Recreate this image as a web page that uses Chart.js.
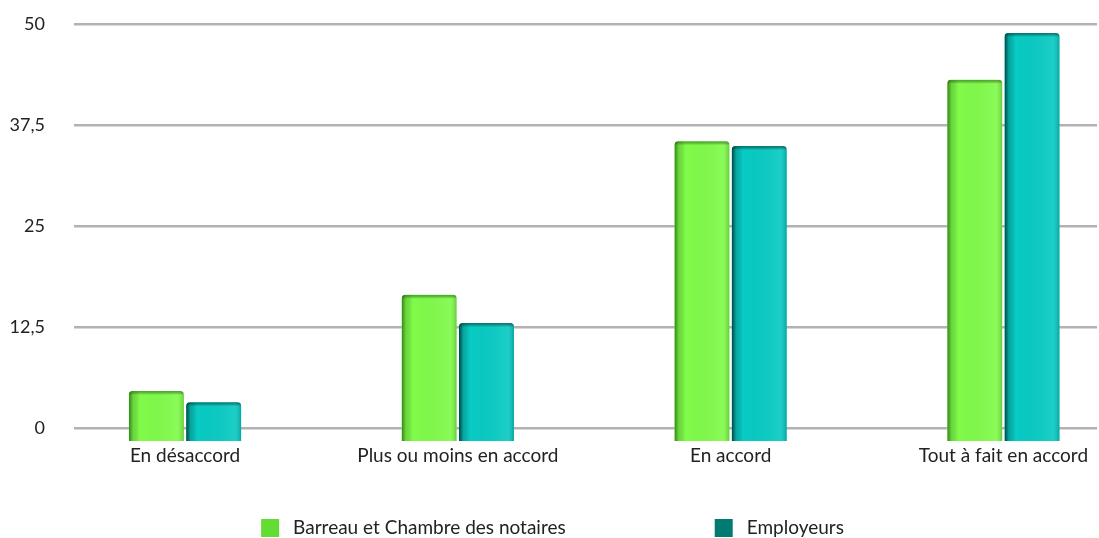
<!DOCTYPE html>
<html lang="fr">
<head>
<meta charset="utf-8">
<title>Répartition des réponses</title>
<script src="https://cdn.jsdelivr.net/npm/chart.js@4/dist/chart.umd.min.js"></script>
<style>
  html, body { margin: 0; padding: 0; background: #fff; }
  #wrap { width: 1099px; height: 538px; }
</style>
</head>
<body>
<div id="wrap"><canvas id="chart" width="1099" height="538"></canvas></div>
<script>
const categories = ["En désaccord", "Plus ou moins en accord", "En accord", "Tout à fait en accord"];
const barreau = [4.6, 16.5, 35.5, 43.1];
const employeurs = [3.2, 13, 34.9, 48.9];
const yTicks = [0, 12.5, 25, 37.5, 50];

const FONT = "Lato, 'Noto Sans', sans-serif";

// shading on top of each bar so they read as rounded 3D columns
const shadeBars = {
  id: "shadeBars",
  afterDatasetsDraw(chart) {
    const ctx = chart.ctx;
    chart.data.datasets.forEach((ds, di) => {
      const meta = chart.getDatasetMeta(di);
      meta.data.forEach((bar) => {
        const w = bar.width, x0 = bar.x - w / 2, top = bar.y, h = bar.base - bar.y;
        ctx.save();
        ctx.beginPath();
        ctx.roundRect(x0, top, w, h, [4, 4, 0, 0]);
        ctx.clip();
        let g = ctx.createLinearGradient(x0, 0, x0 + w, 0);
        g.addColorStop(0, ds.edgeColor);
        g.addColorStop(0.08, ds.edgeColor.replace(/[\d.]+\)$/, "0.25)"));
        g.addColorStop(0.2, "rgba(0,0,0,0)");
        g.addColorStop(0.88, "rgba(255,255,255,0.08)");
        g.addColorStop(1, "rgba(0,0,0,0.2)");
        ctx.fillStyle = g;
        ctx.fillRect(x0, top, w, h);
        // top rim
        g = ctx.createLinearGradient(0, top, 0, top + 4);
        g.addColorStop(0, ds.edgeColor.replace(/[\d.]+\)$/, "0.6)"));
        g.addColorStop(1, "rgba(0,0,0,0)");
        ctx.fillStyle = g;
        ctx.fillRect(x0, top, w, 4);
        ctx.restore();
      });
    });
  }
};

// legend row under the chart, items spread apart
const bottomLegend = {
  id: "bottomLegend",
  afterDraw(chart) {
    const ctx = chart.ctx;
    const box = 18, gap = 14, spread = 149, cy = 528;
    ctx.save();
    ctx.font = "19px " + FONT;
    ctx.textBaseline = "middle";
    const items = chart.data.datasets.map((ds) => ({
      text: ds.label, color: ds.legendColor,
      w: box + gap + ctx.measureText(ds.label).width
    }));
    const total = items.reduce((s, it) => s + it.w, 0) + spread * (items.length - 1);
    let x = chart.width / 2 - total / 2 + 3;
    items.forEach((it) => {
      ctx.fillStyle = it.color;
      ctx.fillRect(x, cy - box / 2, box, box);
      ctx.fillStyle = "#222";
      ctx.fillText(it.text, x + box + gap, cy);
      x += it.w + spread;
    });
    ctx.restore();
  }
};

new Chart(document.getElementById("chart"), {
  type: "bar",
  data: {
    datasets: [
      {
        label: "Barreau et Chambre des notaires",
        data: categories.map((c, i) => ({ x: i, y: barreau[i] })),
        backgroundColor: "#80fb4a",
        legendColor: "#63dd34",
        edgeColor: "rgba(40,110,20,0.85)",
        base: -1.6,
        borderRadius: { topLeft: 4, topRight: 4 },
        borderSkipped: "bottom"
      },
      {
        label: "Employeurs",
        data: categories.map((c, i) => ({ x: i, y: employeurs[i] })),
        backgroundColor: "#08cbc3",
        legendColor: "#007a72",
        edgeColor: "rgba(0,55,52,0.9)",
        base: -1.6,
        borderRadius: { topLeft: 4, topRight: 4 },
        borderSkipped: "bottom"
      }
    ]
  },
  options: {
    responsive: false,
    animation: false,
    categoryPercentage: 0.42,
    barPercentage: 0.96,
    layout: { padding: { top: 24, left: 10, right: 2, bottom: 65 } },
    plugins: {
      legend: { display: false },
      tooltip: { enabled: false }
    },
    scales: {
      x: {
        type: "linear",
        offset: false,
        bounds: "ticks",
        min: -0.407,
        max: 3.343,
        grid: { display: false, drawTicks: false },
        border: { display: false },
        afterBuildTicks: (scale) => { scale.ticks = categories.map((c, i) => ({ value: i })); },
        afterFit: (scale) => { scale.height = 32; },
        ticks: {
          padding: 3,
          color: "#222",
          font: { family: FONT, size: 19 },
          callback: (v) => categories[v]
        }
      },
      y: {
        min: -1.6,
        max: 50,
        // invisible tick marks keep the labels clear of the grid lines
        grid: { color: "#b2b2b2", lineWidth: 2.5, drawTicks: true, tickLength: 26, tickColor: "rgba(0,0,0,0)" },
        border: { display: false },
        afterBuildTicks: (scale) => { scale.ticks = yTicks.map((v) => ({ value: v })); },
        afterFit: (scale) => { scale.width = 64; },
        ticks: {
          padding: 3,
          color: "#222",
          font: { family: FONT, size: 18 },
          callback: (v) => String(v).replace(".", ",")
        }
      }
    }
  },
  plugins: [shadeBars, bottomLegend]
});
</script>
</body>
</html>
